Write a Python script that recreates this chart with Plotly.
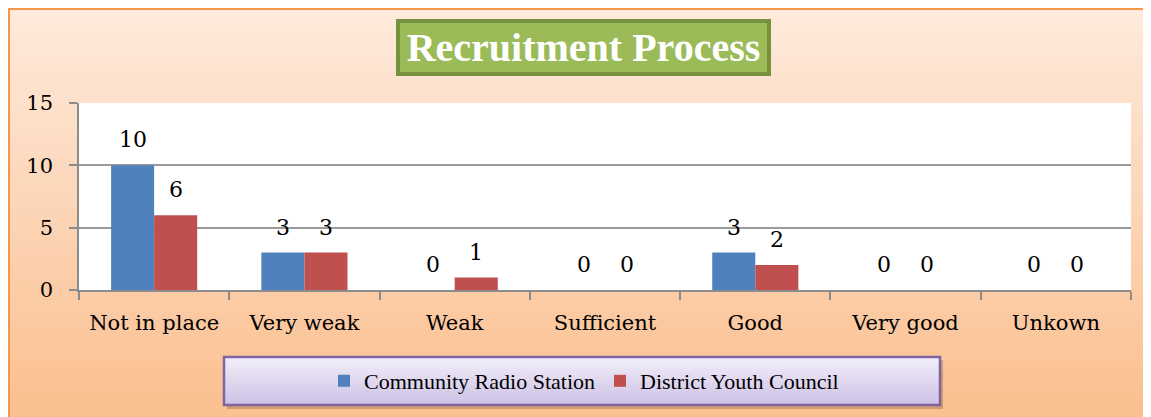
import plotly.graph_objects as go

categories = ["Not in place", "Very weak", "Weak", "Sufficient", "Good", "Very good", "Unkown"]
community_radio = [10, 3, 0, 0, 3, 0, 0]
district_youth = [6, 3, 1, 0, 2, 0, 0]
series_names = ["Community Radio Station", "District Youth Council"]
y_ticks = [0, 5, 10, 15]
title_text = "Recruitment Process"

OFF = 8  # page body margin
W, H = 1151 - OFF, 417 - OFF
L, R, T, B = 71, 20, 95, 127
pw = W - L - R
ph = H - T - B


def fx(px):
    # px in screenshot coordinates
    return (px - OFF - L) / pw


def fy(py):
    return (H - B - (py - OFF)) / ph


def hex2rgb(h):
    h = h.lstrip("#")
    return tuple(int(h[i:i + 2], 16) for i in (0, 2, 4))


def lerp(c1, c2, t):
    a, b = hex2rgb(c1), hex2rgb(c2)
    return "rgb(%d,%d,%d)" % tuple(round(a[i] + (b[i] - a[i]) * t) for i in range(3))


shapes = []
# background gradient
n = 60
y0p, y1p = 8, 420
for i in range(n):
    ya = y0p + (y1p - y0p) * i / n
    yb = y0p + (y1p - y0p) * (i + 1) / n + 0.6
    shapes.append(dict(type="rect", xref="paper", yref="paper", layer="below",
                       x0=fx(8), x1=fx(1155), y0=fy(ya), y1=fy(yb),
                       fillcolor=lerp("#FEEADC", "#FABF8E", i / (n - 1)), line_width=0))
# orange border top & left
shapes.append(dict(type="line", xref="paper", yref="paper", layer="below",
                   x0=fx(8), x1=fx(1155), y0=fy(9), y1=fy(9),
                   line=dict(color="#F79646", width=2)))
shapes.append(dict(type="line", xref="paper", yref="paper", layer="below",
                   x0=fx(9), x1=fx(9), y0=fy(8), y1=fy(420),
                   line=dict(color="#F79646", width=2)))
# white plot area
shapes.append(dict(type="rect", xref="paper", yref="paper", layer="below",
                   x0=0, x1=1, y0=0, y1=1, fillcolor="white", line_width=0))
# legend box shadow
lx0, lx1, ly0, ly1 = 224, 940, 357, 405
shapes.append(dict(type="rect", xref="paper", yref="paper", layer="below",
                   x0=fx(lx0 + 3), x1=fx(lx1 + 3), y0=fy(ly0 + 3), y1=fy(ly1 + 4),
                   fillcolor="rgba(120,90,60,0.35)", line_width=0))
m = 24
for i in range(m):
    ya = ly0 + (ly1 - ly0) * i / m
    yb = ly0 + (ly1 - ly0) * (i + 1) / m + 0.5
    shapes.append(dict(type="rect", xref="paper", yref="paper", layer="below",
                       x0=fx(lx0), x1=fx(lx1), y0=fy(ya), y1=fy(yb),
                       fillcolor=lerp("#F2EFF9", "#CDC1E5", i / (m - 1)), line_width=0))
shapes.append(dict(type="rect", xref="paper", yref="paper", layer="below",
                   x0=fx(lx0), x1=fx(lx1), y0=fy(ly0), y1=fy(ly1),
                   fillcolor="rgba(0,0,0,0)", line=dict(color="#8064A2", width=2.5)))

fig = go.Figure()
fig.add_trace(go.Bar(x=categories, y=community_radio, name=series_names[0],
                     marker=dict(color="#4F81BD", line_width=0)))
fig.add_trace(go.Bar(x=categories, y=district_youth, name=series_names[1],
                     marker=dict(color="#C0504D", line_width=0)))

annotations = []
for vals, shift in ((community_radio, -21.5), (district_youth, 21.5)):
    for c, v in zip(categories, vals):
        annotations.append(dict(x=c, y=v, xref="x", yref="y", text=str(v), showarrow=False,
                                xshift=shift, yshift=11, yanchor="bottom",
                                font=dict(family="DejaVu Serif", size=22, color="black")))

annotations.append(dict(x=fx(583.5), y=fy(47.5), xref="paper", yref="paper", text="<b>%s</b>" % title_text,
                        showarrow=False, xanchor="center", yanchor="middle",
                        width=367, height=49, bgcolor="#9BBB59", bordercolor="#76923C",
                        borderwidth=4, borderpad=0,
                        font=dict(family="Liberation Serif", size=40, color="white")))

fig.update_layout(
    width=W, height=H,
    margin=dict(l=L, r=R, t=T, b=B, pad=0),
    paper_bgcolor="white", plot_bgcolor="white",
    barmode="group", bargap=0.427, bargroupgap=0,
    shapes=shapes, annotations=annotations,
    showlegend=True,
    legend=dict(orientation="h", x=fx(584), y=fy(381), xanchor="center", yanchor="middle",
                bgcolor="rgba(0,0,0,0)", font=dict(family="Liberation Serif", size=22, color="black"),
                itemclick=False, traceorder="normal", tracegroupgap=0),
    font=dict(family="DejaVu Serif", color="black"),
)
fig.update_xaxes(type="category", showgrid=False, showline=True, linecolor="#8C8C8C", linewidth=1.5,
                 ticks="outside", tickson="boundaries", ticklen=8, tickcolor="#8C8C8C", tickwidth=1.5,
                 tickfont=dict(family="DejaVu Serif", size=21, color="black"), ticklabelstandoff=13)
fig.update_yaxes(range=[0, 15], tickvals=y_ticks, showgrid=True, gridcolor="#9A9A9A", gridwidth=1.5,
                 showline=True, linecolor="#8C8C8C", linewidth=1.5, zeroline=False,
                 ticks="outside", ticklen=8, tickcolor="#8C8C8C", tickwidth=1.5,
                 tickfont=dict(family="DejaVu Serif", size=21, color="black"), ticklabelstandoff=12)

fig.write_html("out.html")
